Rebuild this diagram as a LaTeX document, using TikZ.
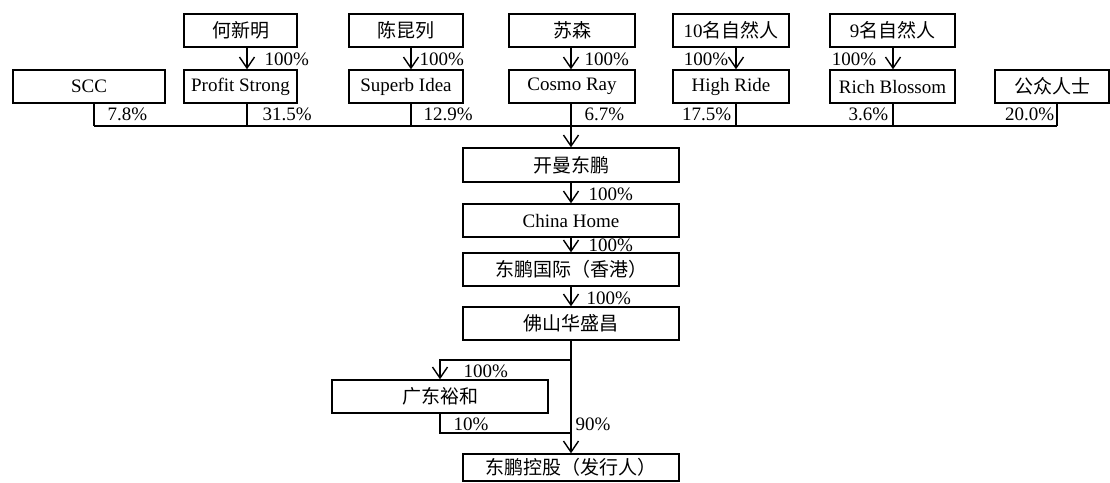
\documentclass[tikz,border=0pt]{standalone}
\usepackage{fontspec}
\setmainfont{Liberation Serif}
\newfontfamily\cjk{Noto Sans CJK SC}
\newcommand{\zh}[1]{{\cjk #1}}
\newcommand{\fs}{\fontsize{19}{21}\selectfont}
\usetikzlibrary{arrows.meta}
\begin{document}
\begin{tikzpicture}[x=1pt,y=-1pt, line width=1.4pt,
  box/.style={draw, line width=1.4pt, inner sep=0pt, minimum height=33pt, font=\fs},
  pct/.style={inner sep=0pt, font=\fs},
  arr/.style={-{Straight Barb[length=11pt,width=15pt]}}]
\useasboundingbox (0,0) rectangle (1110,482);
% row 1
\node[box, minimum width=113pt] (he)   at (240.5,30.5) {\zh{何新明}};
\node[box, minimum width=114pt] (chen) at (406,30.5)   {\zh{陈昆列}};
\node[box, minimum width=126pt] (su)   at (572,30.5)   {\zh{苏森}};
\node[box, minimum width=116pt] (ten)  at (731,30.5)   {10\zh{名自然人}};
\node[box, minimum width=125pt] (nine) at (892.5,30.5) {9\zh{名自然人}};
% row 2
\node[box, minimum width=152pt] (scc)  at (89,86.5)    {SCC};
\node[box, minimum width=113pt] (ps)   at (240.5,86.5) {Profit Strong};
\node[box, minimum width=114pt] (si)   at (406,86.5)   {Superb Idea};
\node[box, minimum width=126pt] (cr)   at (572,86.5)   {Cosmo Ray};
\node[box, minimum width=116pt] (hr)   at (731,86.5)   {High Ride};
\node[box, minimum width=125pt] (rb)   at (892.5,86.5) {Rich Blossom};
\node[box, minimum width=114pt] (gz)   at (1052,86.5)  {\zh{公众人士}};
% middle column
\node[box, minimum width=216pt, minimum height=34pt] (km) at (571,165) {\zh{开曼东鹏}};
\node[box, minimum width=216pt] (ch) at (571,220.5) {China Home};
\node[box, minimum width=216pt] (dg) at (571,269.5) {\zh{东鹏国际（香港）}};
\node[box, minimum width=216pt] (fs) at (571,323.5) {\zh{佛山华盛昌}};
\node[box, minimum width=216pt] (gd) at (440,396.5) {\zh{广东裕和}};
\node[box, minimum width=216pt, minimum height=27pt] (dp) at (571,467.5) {\zh{东鹏控股（发行人）}};
% bus coordinates
\coordinate (b1) at (94,126);
\coordinate (b2) at (247,126);
\coordinate (b3) at (411,126);
\coordinate (b4) at (571,126);
\coordinate (b5) at (736,126);
\coordinate (b6) at (893,126);
\coordinate (b7) at (1057,126);
\coordinate (br) at (571,360);
\coordinate (jn) at (571,433);
% ties to bus
\draw (scc.south -| b1) -- (b1);
\draw (ps.south -| b2) -- (b2);
\draw (si.south -| b3) -- (b3);
\draw (cr.south -| b4) -- (b4);
\draw (hr.south -| b5) -- (b5);
\draw (rb.south -| b6) -- (b6);
\draw (gz.south -| b7) -- (b7);
\draw (b1) -- (b7);
% top arrows
\draw[arr] (he.south -| b2) -- (ps.north -| b2);
\draw[arr] (chen.south -| b3) -- (si.north -| b3);
\draw[arr] (su.south -| b4) -- (cr.north -| b4);
\draw[arr] (ten.south -| b5) -- (hr.north -| b5);
\draw[arr] (nine.south -| b6) -- (rb.north -| b6);
% middle chain
\draw[arr] (b4) -- (km.north);
\draw[arr] (km.south) -- (ch.north);
\draw[arr] (ch.south) -- (dg.north);
\draw[arr] (dg.south) -- (fs.north);
\draw[arr] (fs.south) -- (dp.north);
\draw[arr] (br) -| (gd.north);
\draw (gd.south) |- (jn);
% labels top arrows
\node[pct, anchor=west] (a1) at (264,59) {100\%};
\node[pct, anchor=west] (a2) at (419,59) {100\%};
\node[pct, anchor=west] (a3) at (584,59) {100\%};
\node[pct, anchor=east] (a4) at (729,59) {100\%};
\node[pct, anchor=east] (a5) at (877,59) {100\%};
% labels row 2
\node[pct, anchor=west] (p1) at (107,114) {7.8\%};
\node[pct, anchor=west] (p2) at (262,114) {31.5\%};
\node[pct, anchor=west] (p3) at (423,114) {12.9\%};
\node[pct, anchor=west] (p4) at (584,114) {6.7\%};
\node[pct, anchor=east] (p5) at (732,114) {17.5\%};
\node[pct, anchor=east] (p6) at (889,114) {3.6\%};
\node[pct, anchor=east] (p7) at (1055,114) {20.0\%};
% labels middle
\node[pct, anchor=west] (m1) at (588,194) {100\%};
\node[pct, anchor=west] (m2) at (588,245) {100\%};
\node[pct, anchor=west] (m3) at (586,298) {100\%};
\node[pct, anchor=west] (m4) at (463,371) {100\%};
\node[pct, anchor=west] (m5) at (453,424) {10\%};
\node[pct, anchor=west] (m6) at (575,424) {90\%};
\end{tikzpicture}
\end{document}
